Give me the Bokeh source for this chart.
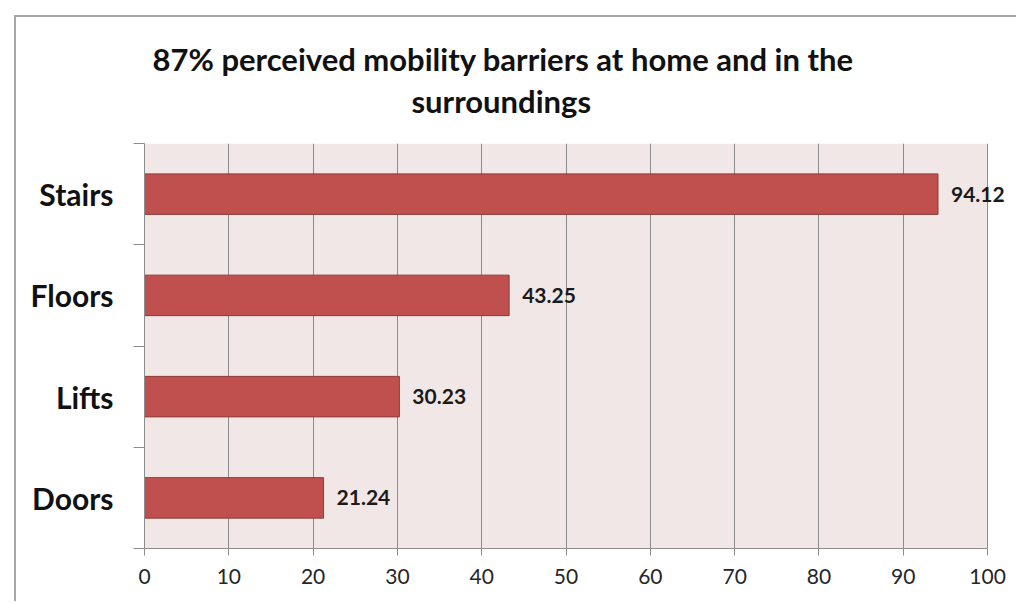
from bokeh.plotting import figure
from bokeh.models import ColumnDataSource, FixedTicker, BoxAnnotation, Range1d, Title
from bokeh.core.properties import value
from bokeh.embed import file_html
from bokeh.resources import INLINE

categories = ["Doors", "Lifts", "Floors", "Stairs"]
values = [21.24, 30.23, 43.25, 94.12]
x_ticks = [0, 10, 20, 30, 40, 50, 60, 70, 80, 90, 100]
title_lines = ["87% perceived mobility barriers at home and in the", "surroundings"]

FONT = "Lato"
ys = [i + 0.5 for i in range(len(categories))]
src = ColumnDataSource(dict(y=ys, v=values, lab=["%.2f" % v for v in values]))

p = figure(width=1002, height=586, output_backend="svg", toolbar_location=None,
           x_range=Range1d(0, 102.6), y_range=Range1d(0, len(categories)),
           min_border_left=128, min_border_right=9, min_border_top=126, min_border_bottom=55,
           title=None)
p.margin = (15, 0, 0, 14)
p.styles = {"border-left": "2px solid #a6a6a6", "border-top": "2px solid #a6a6a6"}
p.background_fill_color = "white"
p.border_fill_color = "white"
p.outline_line_color = None

# plot-area background (0..100 only)
bg = BoxAnnotation(left=0, right=100, bottom=0, top=len(categories),
                   fill_color="#f2e7e7", fill_alpha=1, line_color=None, level="underlay")
p.center = [bg] + list(p.center)

p.hbar(y="y", right="v", left=0, height=0.4, source=src,
       fill_color="#c0504d", line_color="#8e3a38", line_width=1)
p.text(x="v", y="y", text="lab", source=src, x_offset=13,
       text_font=value(FONT), text_font_style="bold", text_font_size="21px",
       text_baseline="middle", text_align="left", text_color="#1a1a1a")

# x axis
p.xaxis.ticker = FixedTicker(ticks=x_ticks)
p.xaxis.bounds = (0, 100)
p.xaxis.axis_line_color = "#8c8c8c"
p.xaxis.major_tick_line_color = "#8c8c8c"
p.xaxis.major_tick_out = 7
p.xaxis.major_tick_in = 0
p.xaxis.minor_tick_line_color = None
p.xaxis.major_label_text_font = FONT
p.xaxis.major_label_text_font_size = "21px"
p.xaxis.major_label_text_color = "#262626"
p.xaxis.major_label_standoff = 13

# y axis
p.yaxis.ticker = FixedTicker(ticks=ys, minor_ticks=list(range(len(categories) + 1)))
p.yaxis.major_label_overrides = {y: c for y, c in zip(ys, categories)}
p.yaxis.axis_line_color = "#8c8c8c"
p.yaxis.major_tick_line_color = None
p.yaxis.major_tick_out = 0
p.yaxis.major_tick_in = 0
p.yaxis.minor_tick_line_color = "#8c8c8c"
p.yaxis.minor_tick_out = 11
p.yaxis.minor_tick_in = 0
p.yaxis.major_label_text_font = FONT
p.yaxis.major_label_text_font_style = "bold"
p.yaxis.major_label_text_font_size = "30px"
p.yaxis.major_label_text_color = "#111111"
p.yaxis.major_label_standoff = 20

p.xgrid.ticker = FixedTicker(ticks=x_ticks)
p.xgrid.grid_line_color = "#8c8c8c"
p.ygrid.grid_line_color = None

# title: spacer nearest the frame, then line 2, then line 1
title_style = dict(text_font=FONT, text_font_style="bold", text_font_size="31px",
                   text_color="#111111", align="left")
p.add_layout(Title(text=" ", text_font_size="10px", standoff=11), "above")
p.add_layout(Title(text=title_lines[1], offset=267, standoff=0, **title_style), "above")
p.add_layout(Title(text=title_lines[0], offset=8, standoff=4, **title_style), "above")

open("out.html", "w").write(file_html(p, INLINE))
